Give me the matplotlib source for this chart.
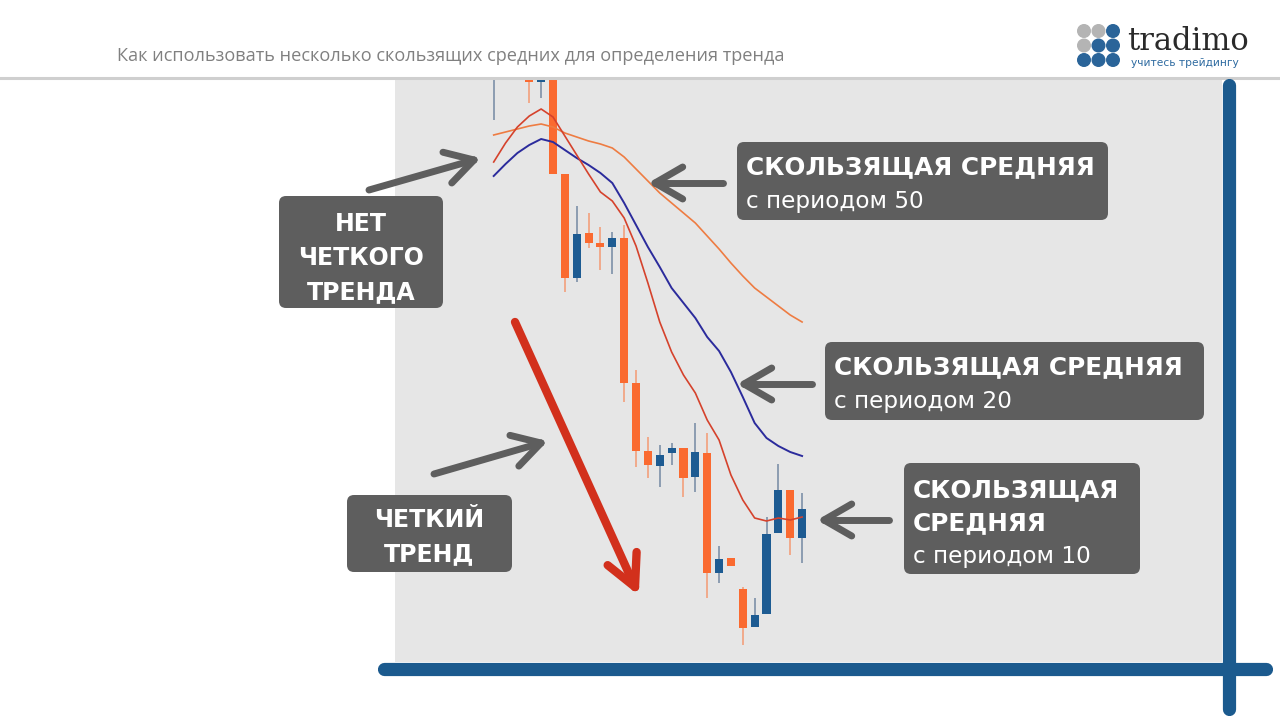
import numpy as np
import matplotlib.pyplot as plt
from matplotlib.patches import FancyBboxPatch, Circle

plt.rcParams['font.family'] = ['DejaVu Sans']

# candles (price units), index 0..26
c_open  = [640, 650, 640, 630, 618, 632, 526, 422, 467, 457, 453, 462, 317, 249,
           234, 247, 252, 223, 247, 127, 142, 111, 73, 86, 167, 210, 162]
c_high  = [670, 660, 668, 640, 640, 640, 526, 494, 487, 473, 468, 475, 330, 263,
           255, 257, 252, 277, 267, 154, 142, 113, 102, 183, 236, 210, 207]
c_low   = [580, 630, 632, 597, 602, 526, 408, 418, 452, 430, 426, 298, 233, 222,
           213, 235, 203, 208, 102, 117, 134, 55, 73, 86, 167, 145, 137]
c_close = [660, 635, 655, 618, 630, 526, 422, 466, 457, 453, 462, 317, 249, 235,
           245, 252, 222, 248, 127, 141, 134, 72, 85, 166, 210, 162, 191]

# moving averages
ma50 = [565, 568, 571, 574, 576, 573, 567, 563, 559, 556, 552, 543, 531, 519,
        507, 497, 487, 477, 464, 451, 437, 424, 412, 403, 394, 385, 378]
ma20 = [524, 536, 547, 555, 561, 558, 550, 542, 535, 527, 517, 497, 475, 453,
        433, 412, 397, 382, 363, 349, 328, 303, 277, 262, 254, 248, 244]
ma10 = [538, 557, 573, 584, 591, 583, 564, 545, 526, 508, 499, 482, 454, 417,
        378, 348, 325, 307, 280, 260, 225, 200, 182, 179, 182, 180, 183]

title = "Как использовать несколько скользящих средних для определения тренда"

UP, DOWN = '#1d5b92', '#fa6a30'
UP_WICK, DOWN_WICK = '#7d90a8', '#f3a07c'
BOX = '#5e5e5e'
ARROW = '#5e5e5e'
AXIS_BLUE = '#1b5a8e'

fig = plt.figure(figsize=(12.8, 7.2), dpi=100)
fig.patch.set_facecolor('white')

ax = fig.add_axes([395 / 1280, 58 / 720, 827 / 1280, 584 / 720])
ax.set_facecolor('#e6e6e6')
for s in ax.spines.values():
    s.set_visible(False)
ax.set_xticks([])
ax.set_yticks([])
ax.set_xlim(-8.32, 61.4)
ax.set_ylim(38, 622)

idx = np.arange(len(c_open))
o = np.array(c_open); c = np.array(c_close)
up = c > o
for i in idx:
    ax.vlines(i, c_low[i], c_high[i], color=UP_WICK if up[i] else DOWN_WICK, lw=1.2, zorder=2)
bottom = np.minimum(o, c)
height = np.maximum(np.abs(c - o), 1.5)
ax.bar(idx, height, bottom=bottom, width=0.68,
       color=[UP if u else DOWN for u in up], zorder=3)

ax.plot(idx, ma50, color='#ee7c42', lw=1.2, zorder=4)
ax.plot(idx, ma20, color='#2b2b9c', lw=1.4, zorder=4)
ax.plot(idx, ma10, color='#d5422c', lw=1.2, zorder=4)

# overlay in pixel coordinates
ov = fig.add_axes([0, 0, 1, 1])
ov.set_xlim(0, 1280)
ov.set_ylim(720, 0)
ov.axis('off')
ov.patch.set_alpha(0)

# header
ov.plot([0, 1280], [77.5, 77.5], color='#cfcfcf', lw=2.2)
ov.text(117, 56, title, color='#808080', fontsize=13.1, family='Open Sans',
        va='center', ha='left')
dot_cols = [['#b4b4b4', '#b4b4b4', '#2a6499'],
            ['#b4b4b4', '#2a6499', '#2a6499'],
            ['#2a6499', '#2a6499', '#2a6499']]
for r, row in enumerate(dot_cols):
    for k, col in enumerate(row):
        ov.add_patch(Circle((1084 + 14.5 * k, 31 + 14.5 * r), 6.3, color=col))
ov.text(1127, 50, 'tradimo', family='DejaVu Serif', fontsize=22, color='#2a2a2a',
        va='baseline', ha='left')
ov.text(1131, 66, 'учитесь трейдингу', fontsize=7.7, color='#2d6aa0',
        va='baseline', ha='left')

# blue axis lines
ov.plot([1229, 1229], [85, 709], color=AXIS_BLUE, lw=9.5, solid_capstyle='round')
ov.plot([384, 1266], [669, 669], color=AXIS_BLUE, lw=9.5, solid_capstyle='round')


def arrow(x0, y0, x1, y1, color, lw, head, spread):
    ov.plot([x0, x1], [y0, y1], color=color, lw=lw, solid_capstyle='round')
    ang = np.arctan2(y1 - y0, x1 - x0) + np.pi
    for sgn in (1, -1):
        a = ang + sgn * np.radians(spread)
        ov.plot([x1, x1 + head * np.cos(a)], [y1, y1 + head * np.sin(a)],
                color=color, lw=lw, solid_capstyle='round')


def box(x, y, w, h):
    ov.add_patch(FancyBboxPatch((x, y), w, h, boxstyle='round,pad=0,rounding_size=7',
                                facecolor=BOX, edgecolor='none'))


arrow(369, 190, 474, 160, ARROW, 5, 32, 30)
arrow(723, 183, 655, 183, ARROW, 5, 32, 30)
arrow(812, 384, 744, 384, ARROW, 5, 32, 30)
arrow(889, 520, 824, 520, ARROW, 5, 32, 30)
arrow(434, 474, 541, 443, ARROW, 5, 32, 30)
arrow(515, 322, 635, 587, '#d2301c', 6, 35, 27)

bold = dict(color='white', fontsize=17, fontweight='bold', va='baseline')
bold_l = dict(color='white', fontsize=17.8, fontweight='bold', va='baseline')
reg = dict(color='white', fontsize=16.7, va='baseline')

box(279, 196, 164, 112)
ov.text(361, 231, 'НЕТ', ha='center', **bold)
ov.text(361, 265, 'ЧЕТКОГО', ha='center', **bold)
ov.text(361, 299, 'ТРЕНДА', ha='center', **bold)

box(347, 495, 165, 77)
ov.text(429, 527, 'ЧЕТКИЙ', ha='center', **bold)
ov.text(429, 561, 'ТРЕНД', ha='center', **bold)

box(737, 142, 371, 78)
ov.text(746, 174, 'СКОЛЬЗЯЩАЯ СРЕДНЯЯ', ha='left', **bold_l)
ov.text(746, 208, 'с периодом 50', ha='left', **reg)

box(825, 342, 379, 78)
ov.text(834, 374, 'СКОЛЬЗЯЩАЯ СРЕДНЯЯ', ha='left', **bold_l)
ov.text(834, 408, 'с периодом 20', ha='left', **reg)

box(904, 463, 236, 111)
ov.text(913, 497, 'СКОЛЬЗЯЩАЯ', ha='left', **bold_l)
ov.text(913, 530, 'СРЕДНЯЯ', ha='left', **bold_l)
ov.text(913, 563, 'с периодом 10', ha='left', **reg)

fig.savefig('out.png', dpi=100)
